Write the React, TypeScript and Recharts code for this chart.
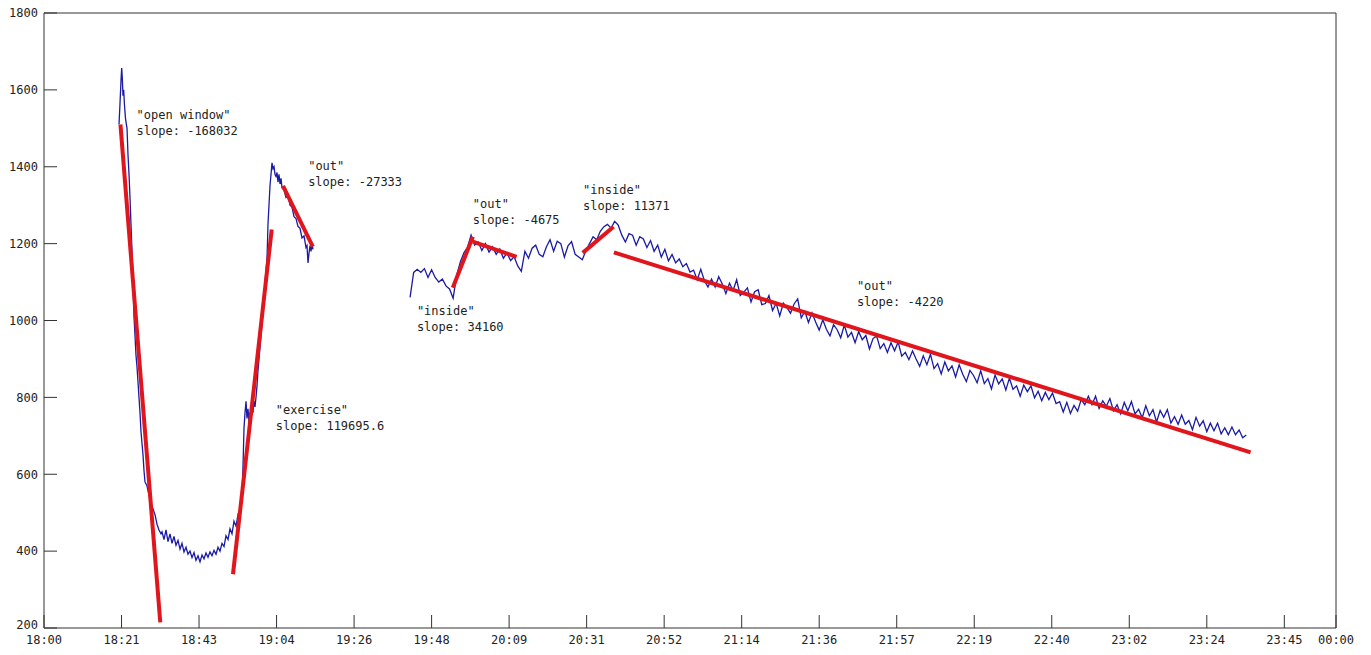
import { LineChart, Line, XAxis, YAxis, ReferenceDot } from "recharts"

// x values are minutes after 18:00
const xTicks = [0, 21.6, 43.2, 64.8, 86.4, 108, 129.6, 151.2, 172.8, 194.4, 216, 237.6, 259.2, 280.8, 302.4, 324, 345.6, 360]
const xTickLabels = ["18:00", "18:21", "18:43", "19:04", "19:26", "19:48", "20:09", "20:31", "20:52", "21:14", "21:36", "21:57", "22:19", "22:40", "23:02", "23:24", "23:45", "00:00"]
const yTicks = [200, 400, 600, 800, 1000, 1200, 1400, 1600, 1800]

// first logging run: [minute, ppm]
const firstRun: [number, number][] = [
  [20.9, 1510], [21.18, 1565], [21.46, 1625], [21.65, 1657], [21.82, 1630], [22.01, 1585], [22.2, 1600], [22.43, 1560],
  [22.71, 1525], [23.13, 1500], [23.41, 1430], [23.69, 1380], [23.96, 1320], [24.24, 1250], [24.52, 1180], [24.8, 1100],
  [25.08, 1010], [25.36, 960], [25.63, 910], [25.91, 880], [26.19, 840], [26.47, 800], [26.75, 760], [27.03, 710],
  [27.31, 680], [27.59, 650], [27.86, 610], [28.14, 580], [28.7, 570], [29.26, 545], [29.81, 525], [30.37, 510],
  [30.93, 495], [31.49, 470], [32.04, 455], [32.6, 445], [32.88, 450], [33.44, 430], [33.99, 455], [34.55, 425],
  [35.11, 445], [35.67, 420], [36.22, 438], [36.78, 415], [37.34, 428], [37.9, 405], [38.45, 420], [39.01, 398],
  [39.57, 410], [40.12, 392], [40.68, 400], [41.24, 383], [41.8, 396], [42.35, 376], [42.91, 388], [43.47, 372],
  [44.03, 390], [44.58, 380], [45.14, 395], [45.7, 384], [46.25, 398], [46.81, 388], [47.37, 402], [47.93, 392],
  [48.48, 410], [49.04, 400], [49.6, 420], [50.16, 412], [50.71, 440], [51.27, 430], [51.83, 458], [52.38, 445],
  [52.94, 478], [53.5, 465], [54.06, 495], [54.61, 485], [55.17, 540], [55.45, 620], [55.73, 720], [56.01, 760],
  [56.29, 790], [56.56, 745], [56.84, 770], [57.12, 735], [57.4, 760], [57.68, 740], [57.96, 770], [58.24, 760],
  [58.51, 790], [58.79, 775], [59.07, 800], [59.35, 830], [59.63, 870], [59.91, 900], [60.19, 930], [60.46, 960],
  [60.74, 990], [61.02, 1020], [61.3, 1060], [61.58, 1100], [61.86, 1130], [62.14, 1160], [62.41, 1250], [62.69, 1300],
  [62.97, 1350], [63.25, 1380], [63.53, 1410], [63.81, 1395], [64.09, 1400], [64.37, 1380], [64.64, 1375], [64.92, 1385],
  [65.2, 1360], [65.48, 1380], [65.76, 1355], [66.04, 1370], [66.32, 1345], [66.87, 1340], [67.43, 1320], [67.99, 1325],
  [68.55, 1300], [69.1, 1295], [69.66, 1270], [70.22, 1265], [70.77, 1245], [71.33, 1240], [71.89, 1215], [72.45, 1220],
  [73.0, 1190], [73.28, 1195], [73.56, 1150], [73.84, 1175], [74.12, 1195], [74.4, 1180], [74.68, 1200], [74.95, 1185],
]

// second logging run, one reading per minute starting at secondRunStart
const secondRunStart = 102
const secondRunPpm = [
  1060, 1125, 1133, 1125, 1135, 1112, 1132, 1112, 1100, 1108, 1090, 1082, 1058, 1118, 1152, 1176, 1190, 1222, 1196, 1204,
  1182, 1200, 1178, 1192, 1172, 1186, 1162, 1176, 1156, 1166, 1142, 1128, 1180, 1162, 1188, 1196, 1172, 1166, 1192, 1210,
  1180, 1206, 1200, 1165, 1194, 1205, 1172, 1165, 1158, 1182, 1200, 1218, 1210, 1232, 1244, 1250, 1240, 1258, 1248, 1222,
  1204, 1226, 1222, 1196, 1218, 1212, 1190, 1208, 1180, 1196, 1165, 1185, 1155, 1172, 1150, 1160, 1140, 1148, 1126, 1131,
  1106, 1133, 1104, 1087, 1108, 1087, 1114, 1095, 1070, 1097, 1078, 1106, 1065, 1074, 1085, 1048, 1075, 1080, 1041, 1044,
  1065, 1026, 1045, 1012, 1045, 1034, 1019, 1043, 1056, 1007, 1024, 995, 1020, 996, 975, 1002, 977, 960, 989, 976,
  955, 988, 957, 969, 942, 971, 950, 961, 926, 953, 960, 927, 940, 917, 942, 921, 944, 907, 917, 898,
  921, 900, 881, 908, 885, 912, 875, 888, 861, 892, 869, 882, 853, 885, 860, 841, 870, 857, 838, 869,
  836, 849, 822, 858, 835, 848, 819, 850, 821, 830, 803, 832, 815, 830, 799, 816, 791, 813, 794, 811,
  784, 789, 762, 787, 758, 779, 764, 794, 781, 803, 781, 803, 771, 791, 777, 797, 765, 781, 757, 787,
  765, 789, 757, 769, 747, 778, 752, 768, 736, 766, 748, 768, 733, 750, 730, 754, 730, 740, 716, 748,
  725, 739, 711, 733, 713, 733, 705, 721, 703, 723, 703, 715, 695, 702,
]

// linear fits: start/end minute, ppm at start, slope in ppm per day
const fitStart = [21.3, 52.66, 66.6, 113.9, 119.5, 150.1, 158.8]
const fitEnd = [32.4, 63.45, 74.9, 119.5, 131.7, 158.7, 336.2]
const fitStartPpm = [1510, 340, 1350, 1085, 1205, 1176, 1177]
const fitSlope = [-168032, 119695.6, -27333, 34160, -4675, 11371, -4220]
const fitTag = ["open window", "exercise", "out", "inside", "out", "inside", "out"]
const noteMinute = [25.8, 64.6, 73.6, 103.9, 119.5, 150.2, 226.5]
const notePpm = [1535, 766, 1403, 1026, 1304, 1340, 1091]

const firstRunData = firstRun.map(([t, v]) => ({ t, v }))
const secondRunData = secondRunPpm.map((v, i) => ({ t: secondRunStart + i, v }))
const fitData = fitStart.map((t0, i) => [
  { t: t0, v: fitStartPpm[i] },
  { t: fitEnd[i], v: fitStartPpm[i] + (fitSlope[i] * (fitEnd[i] - t0)) / 1440 },
])

const font = "'DejaVu Sans Mono', monospace"
const axisColor = "#333"
const textColor = "#222"
const tickStyle = { fill: textColor, fontSize: 12, fontFamily: font }

// y tick labels; the bottom one sits a little higher so it clears the time labels
const YTick = ({ x, y, payload }: any) => (
  <text
    x={x}
    y={y + (payload.value === 200 ? -3 : 0)}
    dy="0.355em"
    textAnchor="end"
    fill={textColor}
    fontSize={12}
    fontFamily={font}
  >
    {payload.value}
  </text>
)

export default function App() {
  return (
    <div style={{ position: "absolute", left: 0, top: 0, width: 1371, height: 655, background: "#fff" }}>
      <LineChart width={1371} height={655} margin={{ top: 0, right: 0, bottom: 0, left: 0 }}>
        <XAxis
          type="number"
          dataKey="t"
          domain={[0, 360]}
          allowDataOverflow
          ticks={xTicks}
          interval={0}
          tickFormatter={(_v: number, i: number) => xTickLabels[i]}
          height={27}
          tickSize={-13}
          tickMargin={20}
          stroke={axisColor}
          tick={tickStyle}
        />
        <XAxis
          xAxisId="top"
          orientation="top"
          type="number"
          domain={[0, 360]}
          allowDataOverflow
          ticks={xTicks}
          interval={0}
          tick={false}
          height={13}
          tickSize={-13}
          stroke={axisColor}
        />
        <YAxis
          type="number"
          domain={[200, 1800]}
          allowDataOverflow
          ticks={yTicks}
          interval={0}
          width={44}
          tickSize={-13}
          tickMargin={19}
          stroke={axisColor}
          tick={<YTick />}
        />
        <YAxis
          yAxisId="right"
          orientation="right"
          type="number"
          domain={[200, 1800]}
          allowDataOverflow
          ticks={yTicks}
          interval={0}
          tick={false}
          width={35}
          tickSize={-13}
          stroke={axisColor}
        />
        <Line data={firstRunData} dataKey="v" stroke="#1a1aa4" strokeWidth={1.3} dot={false} isAnimationActive={false} />
        <Line data={secondRunData} dataKey="v" stroke="#1a1aa4" strokeWidth={1.3} dot={false} isAnimationActive={false} />
        {fitData.map((d, i) => (
          <Line key={i} data={d} dataKey="v" stroke="#e0161c" strokeWidth={4} dot={false} isAnimationActive={false} />
        ))}
        {noteMinute.map((t, i) => (
          <ReferenceDot
            key={i}
            x={t}
            y={notePpm[i]}
            r={0}
            shape={(p: any) => (
              <text x={p.cx} y={p.cy + 4} fill={textColor} fontSize={12} fontFamily={font}>
                <tspan x={p.cx}>"{fitTag[i]}"</tspan>
                <tspan x={p.cx} dy={16}>slope: {fitSlope[i]}</tspan>
              </text>
            )}
          />
        ))}
      </LineChart>
    </div>
  )
}
